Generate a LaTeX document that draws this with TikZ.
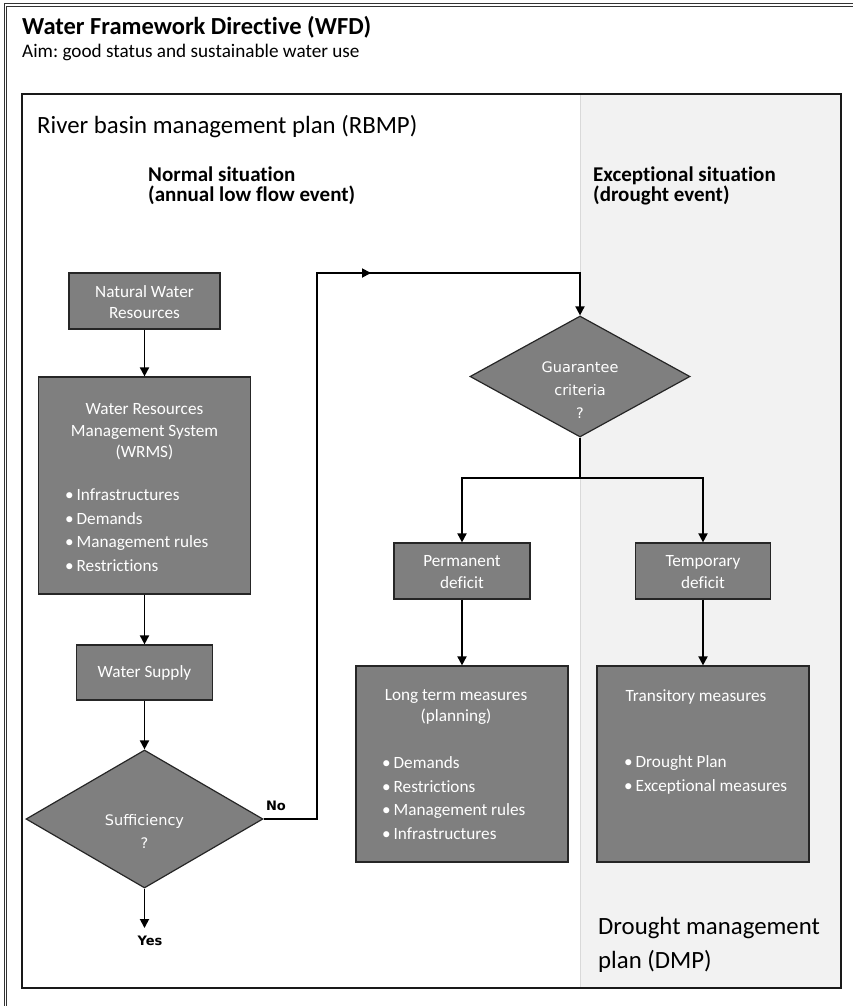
\documentclass[tikz,border=0pt]{standalone}
\usepackage{fontspec}
\setmainfont{Carlito}[Ligatures=NoCommon]
\newfontfamily\tahoma{DejaVu Sans}
\usetikzlibrary{arrows.meta,shapes.geometric}
\definecolor{boxgray}{HTML}{7F7F7F}
\definecolor{panelgray}{HTML}{F2F2F2}
\definecolor{sepgray}{HTML}{D9D9D9}
\frenchspacing
\begin{document}
\begin{tikzpicture}[x=1pt,y=-1pt,
  box/.style={draw=black!85, line width=1.2pt, fill=boxgray, inner sep=0pt},
  dia/.style={diamond, draw=black!85, line width=1.2pt, fill=boxgray, inner sep=0pt},
  btxt/.style={text=white, inner sep=0pt, font=\fontsize{17.2}{21.5}\selectfont},
  blist/.style={text=white, inner sep=0pt, align=left, anchor=west, font=\fontsize{17.2}{23.5}\selectfont},
  dtxt/.style={text=white, inner sep=0pt, align=center, font=\tahoma\fontsize{14.5}{23}\selectfont},
  conn/.style={line width=1.8pt, -{Triangle[length=9pt,width=9pt]}},
  plain/.style={line width=1.8pt},
  head/.style={inner sep=0pt, anchor=base west, font=\bfseries\fontsize{21}{22}\selectfont},
  big/.style={inner sep=0pt, anchor=base west, font=\fontsize{24.8}{27}\selectfont},
  yn/.style={inner sep=0pt, font=\tahoma\bfseries\fontsize{13}{15}\selectfont}]
\useasboundingbox (0,0) rectangle (853,1006);
% outer double frame
\draw[double, double distance=1.4pt, line width=0.9pt, draw=black!80] (5.5,1010) -- (5.5,5) -- (860,5);
% titles
\node[inner sep=0pt, anchor=base west, font=\bfseries\fontsize{24.5}{25}\selectfont] (title) at (22,35) {Water Framework Directive (WFD)};
\node[inner sep=0pt, anchor=base west, font=\fontsize{19.2}{20}\selectfont] (sub) at (22,58) {Aim: good status and sustainable water use};
% panels
\fill[panelgray] (580,94) rectangle (841,988);
\draw[sepgray, line width=1pt] (580,94) -- (580,988);
\draw[black!90, line width=1.6pt] (22,94) rectangle (841,988);
\node[big] (rbmp) at (37,134) {River basin management plan (RBMP)};
\node[big] (dmp1) at (598,934) {Drought management};
\node[big] (dmp2) at (598,968) {plan (DMP)};
\node[head] (ns1) at (148,181) {Normal situation};
\node[head] (ns2) at (148,201) {(annual low flow event)};
\node[head] (es1) at (593,181) {Exceptional situation};
\node[head] (es2) at (593,201) {(drought event)};
% boxes
\node[box, minimum width=151pt, minimum height=56pt] (nwr) at (144.5,301) {};
\node[btxt, align=center] (nwrt) at (144.5,302) {Natural Water\\Resources};
\node[box, minimum width=212pt, minimum height=217pt] (wrms) at (144.5,485.5) {};
\node[btxt, align=center] (wrmst) at (144.5,432) {Water Resources\\Management System\\(WRMS)};
\node[blist] (wrmsl) at (65,530) {•\,Infrastructures\\•\,Demands\\•\,Management rules\\•\,Restrictions};
\node[box, minimum width=136pt, minimum height=55pt] (ws) at (144.5,672.5) {};
\node[btxt] (wst) at (144.5,673) {Water Supply};
\node[dia, minimum width=237pt, minimum height=138pt] (suf) at (144.5,819) {};
\node[dtxt] (suft) at (144.5,831) {Sufficiency\\?};
\node[dia, minimum width=220pt, minimum height=121pt] (gua) at (580,376.5) {};
\node[dtxt] (guat) at (580,390) {Guarantee\\criteria\\?};
\node[box, minimum width=136pt, minimum height=56pt] (perm) at (462,571) {};
\node[btxt, align=center] (permt) at (462,572) {Permanent\\deficit};
\node[box, minimum width=135pt, minimum height=56pt] (temp) at (703,571) {};
\node[btxt, align=center] (tempt) at (703,572) {Temporary\\deficit};
\node[box, minimum width=212pt, minimum height=196pt] (lt) at (462,764) {};
\node[btxt, align=center] (ltt) at (456,707) {Long term measures\\(planning)};
\node[blist] (ltl) at (382,798) {•\,Demands\\•\,Restrictions\\•\,Management rules\\•\,Infrastructures};
\node[box, minimum width=212pt, minimum height=196pt] (tr) at (703,764) {};
\node[btxt] (trt) at (696,697) {Transitory measures};
\node[blist] (trl) at (624,775) {•\,Drought Plan\\•\,Exceptional measures};
% labels
\node[yn] (yes) at (150,941) {Yes};
\node[yn] (no) at (276,806) {No};
% connectors
\coordinate (c1) at (317,273);
\coordinate (cmid) at (371,273);
\coordinate (yesend) at (144.5,928);
\coordinate (br) at (580,478);
\draw[conn] (nwr.south) -- (wrms.north);
\draw[conn] (wrms.south) -- (ws.north);
\draw[conn] (ws.south) -- (suf.north);
\draw[conn] (suf.south) -- (yesend);
\draw[conn] (suf.east) -| (c1) -| (gua.north);
\draw[conn] (c1) -- (cmid);
\draw[plain] (gua.south) -- (br);
\draw[conn] (br) -| (perm.north);
\draw[conn] (br) -| (temp.north);
\draw[conn] (perm.south) -- (lt.north);
\draw[conn] (temp.south) -- (tr.north);
\end{tikzpicture}
\end{document}
